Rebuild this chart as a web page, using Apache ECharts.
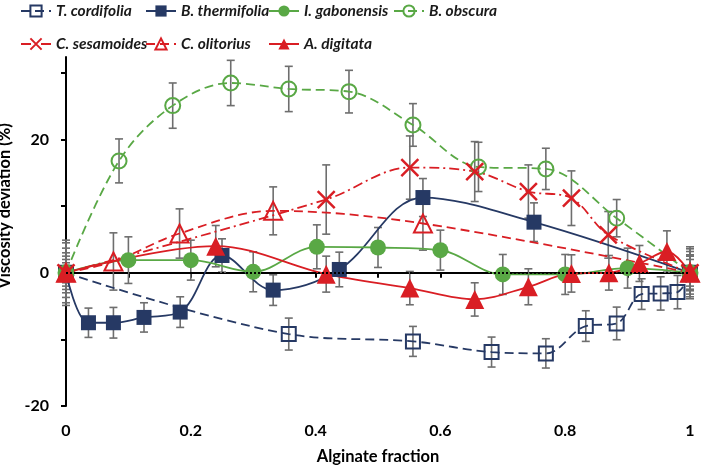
<!DOCTYPE html>
<html><head><meta charset="utf-8">
<script src="https://cdn.jsdelivr.net/npm/echarts@6/dist/echarts.min.js"></script>
<style>html,body{margin:0;padding:0;background:#fff}#c{width:703px;height:468px}</style>
</head><body><div id="c"></div>
<script>
// ---- data ----
const seriesNames = ['T. cordifolia','B. thermifolia','I. gabonensis','B. obscura','C. sesamoides','C. olitorius','A. digitata'];
const xTickLabels = ['0','0.2','0.4','0.6','0.8','1'];
const yTickLabels = ['-20','0','20'];

const tcX = [0, 0.357, 0.556, 0.682, 0.769, 0.833, 0.8825, 0.9225, 0.953, 0.98, 1];
const tcY = [0, -9.2, -10.3, -11.9, -12.1, -8.0, -7.6, -3.2, -3.1, -2.9, 0];
const tcErr = [3.0, 2.4, 2.25, 2.25, 2.2, 2.3, 2.45, 2.3, 2.5, 2.5, 2.5];

const btX = [0, 0.036, 0.076, 0.125, 0.183, 0.25, 0.332, 0.438, 0.572, 0.75, 1];
const btY = [0, -7.5, -7.5, -6.7, -5.9, 2.6, -2.6, 0.5, 11.3, 7.6, 0];
const btErr = [4.5, 2.2, 2.3, 2.2, 2.3, 2.5, 2.3, 2.6, 2.85, 2.9, 3.6];

const igX = [0, 0.1, 0.2, 0.3, 0.402, 0.5, 0.6, 0.7, 0.8, 0.9, 1];
const igY = [0, 1.9, 1.9, 0.15, 3.9, 3.8, 3.4, -0.25, -0.25, 0.7, 0];
const igErr = [1.5, 3.5, 3.0, 3.0, 3.3, 3.0, 3.0, 3.0, 3.0, 3.0, 3.2];

const boX = [0, 0.085, 0.171, 0.264, 0.357, 0.4535, 0.556, 0.661, 0.769, 0.8825, 1];
const boY = [0, 16.8, 25.1, 28.5, 27.6, 27.2, 22.2, 15.9, 15.6, 8.2, 0];
const boErr = [4.9, 3.3, 3.4, 3.4, 3.4, 3.2, 3.2, 3.7, 3.1, 2.8, 3.9];

const csX = [0, 0.417, 0.551, 0.655, 0.741, 0.81, 0.869, 1];
const csY = [0, 11.0, 15.8, 15.2, 12.2, 11.2, 5.7, 0];
const csErr = [3.7, 5.2, 4.75, 4.5, 4.0, 4.1, 3.5, 2.7];

const coX = [0, 0.076, 0.182, 0.332, 0.572, 1];
const coY = [0, 1.7, 5.9, 9.3, 7.4, 0];
const coErr = [2.5, 4.3, 3.7, 3.6, 4.0, 2.5];

const adX = [0, 0.24, 0.417, 0.551, 0.655, 0.741, 0.81, 0.87, 0.919, 0.963, 1];
const adY = [0, 4.0, -0.2, -2.3, -4.0, -2.1, -0.1, 0, 1.4, 3.2, 0];
const adErr = [2.0, 3.1, 2.7, 2.5, 2.5, 2.7, 2.8, 2.6, 2.7, 3.1, 2.0];

// ---- styles ----
const NAVY = '#263964', GREEN = '#59a845', RED = '#d91e24', ERR = '#6e6e6e';
const FONT = 'Lato';

function pts(xs, ys) { return xs.map((x, i) => [x, ys[i]]); }

function errSeries(xs, ys, es) {
  return {
    type: 'custom', silent: true, z: 1,
    data: xs.map((x, i) => [x, ys[i], es[i]]),
    encode: { x: 0, y: 1 },
    renderItem: function (params, api) {
      const x = api.value(0), y = api.value(1), e = api.value(2);
      const t = api.coord([x, y + e]), b = api.coord([x, y - e]);
      const c = 4, st = { stroke: ERR, lineWidth: 1.6 };
      return { type: 'group', children: [
        { type: 'line', shape: { x1: t[0], y1: t[1], x2: b[0], y2: b[1] }, style: st },
        { type: 'line', shape: { x1: t[0] - c, y1: t[1], x2: t[0] + c, y2: t[1] }, style: st },
        { type: 'line', shape: { x1: b[0] - c, y1: b[1], x2: b[0] + c, y2: b[1] }, style: st }
      ]};
    }
  };
}

const TRANSP = 'rgba(255,255,255,0)';
const XPATH = 'path://M0,0L10,10M10,0L0,10';

function lineSeries(name, xs, ys, color, dash, symbol, size, filled, extra) {
  const s = {
    name: name, type: 'line', z: 2, smooth: 0.35,
    data: pts(xs, ys),
    symbol: symbol, symbolSize: size, showSymbol: true,
    lineStyle: { color: color, width: 1.8, type: dash },
    itemStyle: filled ? { color: color } : { color: TRANSP, borderColor: color, borderWidth: 2 },
    emphasis: { disabled: true }
  };
  return Object.assign(s, extra || {});
}

const DASH = [9, 5], DASHDOT = [10, 4, 2, 4];

const series = [
  errSeries(tcX, tcY, tcErr), errSeries(btX, btY, btErr), errSeries(igX, igY, igErr),
  errSeries(boX, boY, boErr), errSeries(csX, csY, csErr), errSeries(coX, coY, coErr),
  errSeries(adX, adY, adErr),
  lineSeries(seriesNames[0], tcX, tcY, NAVY, DASH, 'rect', 14, false, {
    markLine: { silent: true, symbol: 'none', label: { show: false }, z: 5,
      lineStyle: { color: '#000', type: [2, 2], width: 2, opacity: 1 }, emphasis: { disabled: true }, data: [{ yAxis: 0 }] }
  }),
  lineSeries(seriesNames[1], btX, btY, NAVY, 'solid', 'rect', 15, true),
  lineSeries(seriesNames[2], igX, igY, GREEN, 'solid', 'circle', 16, true),
  lineSeries(seriesNames[3], boX, boY, GREEN, DASH, 'circle', 15, false),
  lineSeries(seriesNames[4], csX, csY, RED, DASHDOT, XPATH, 17, false, {
    itemStyle: { color: RED, borderColor: RED, borderWidth: 2.5 }
  }),
  lineSeries(seriesNames[5], coX, coY, RED, DASH, 'triangle', 18, false),
  lineSeries(seriesNames[6], adX, adY, RED, 'solid', 'triangle', 19, true)
];

const legendPos = [[20, 3], [145, 3], [268, 3], [393, 3], [20, 36], [145, 36], [268, 36]];
const legends = seriesNames.map((n, i) => ({
  data: [n], left: legendPos[i][0], top: legendPos[i][1], orient: 'horizontal',
  itemWidth: 30, itemHeight: 14, padding: 0, selectedMode: false,
  textStyle: { fontFamily: FONT, fontSize: 15.5, fontWeight: 'bold', fontStyle: 'italic', color: '#1a1a1a' }
}));

const axisText = { fontFamily: FONT, fontSize: 16, fontWeight: 'bold', color: '#000' };

const option = {
  animation: false,
  backgroundColor: '#fff',
  legend: legends,
  grid: { left: 66, right: 13, top: 57, bottom: 62, containLabel: false, outerBoundsMode: 'none' },
  xAxis: {
    type: 'value', min: 0, max: 1, interval: 0.1,
    name: 'Alginate fraction', nameLocation: 'middle', nameGap: 42,
    nameTextStyle: Object.assign({}, axisText, { fontSize: 16.5 }),
    axisLine: { show: true, lineStyle: { color: '#000', width: 2 } },
    axisTick: { show: true, length: 5, lineStyle: { color: '#000', width: 2 } },
    axisLabel: Object.assign({}, axisText, { margin: 17,
      formatter: function (v) { const k = Math.round(v * 10); return k % 2 === 0 ? xTickLabels[k / 2] : ''; } }),
    splitLine: { show: false }
  },
  yAxis: {
    type: 'value', min: -20, max: 32.4, interval: 10,
    name: 'Viscosity deviation (%)', nameLocation: 'middle', nameGap: 50,
    nameTextStyle: Object.assign({}, axisText, { fontSize: 16.5, padding: [0, 0, 0, 51] }),
    axisLine: { show: true, onZero: false, lineStyle: { color: '#000', width: 2 } },
    axisTick: { show: true, length: 5, lineStyle: { color: '#000', width: 2 } },
    axisLabel: Object.assign({}, axisText, { margin: 17, showMaxLabel: false,
      formatter: function (v) { const k = Math.round(v); const idx = [-20, 0, 20].indexOf(k); return (idx >= 0 && Math.abs(v - k) < 1e-6) ? yTickLabels[idx] : ''; } }),
    splitLine: { show: false }
  },
  series: series
};

const chart = echarts.init(document.getElementById('c'), null, { renderer: 'canvas' });
chart.setOption(option);
</script>
</body></html>
